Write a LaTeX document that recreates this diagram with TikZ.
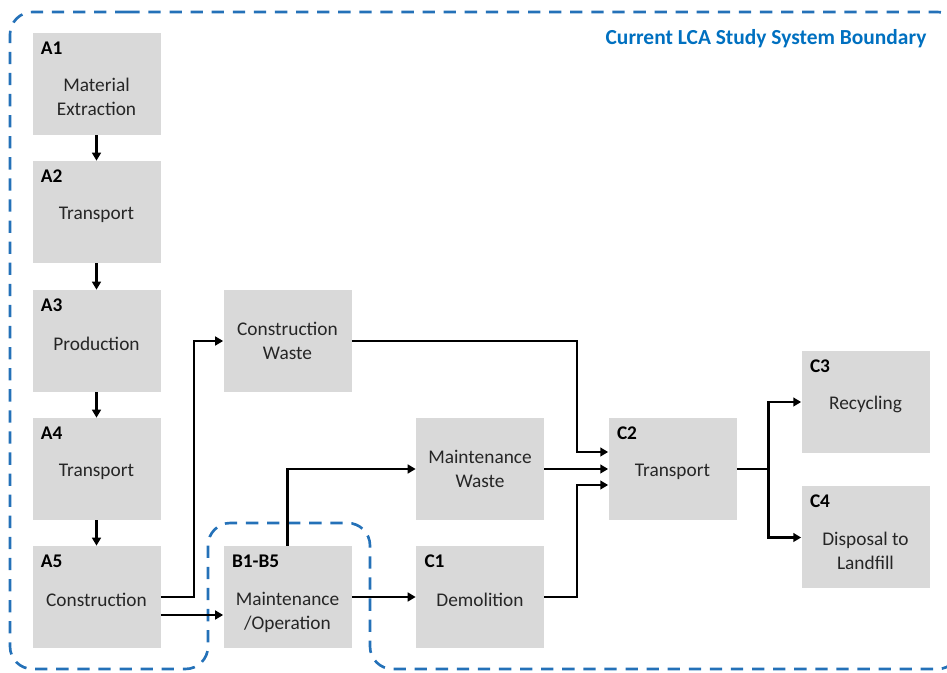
\documentclass[tikz,border=0pt]{standalone}
\usepackage{fontspec}
\setmainfont{Carlito}
\usetikzlibrary{arrows.meta}
\definecolor{boxgray}{RGB}{217,217,217}
\definecolor{linkblue}{RGB}{0,112,192}
\definecolor{edgeblue}{RGB}{36,113,184}

\begin{document}
\begin{tikzpicture}[
  box/.style={fill=boxgray, minimum width=2.56cm, minimum height=2.04cm, inner sep=0pt},
  txt/.style={align=center, inner sep=0pt, font=\fontsize{11pt}{13.7pt}\selectfont, text=black!85},
  one/.style={txt, yshift=-.05cm},
  tag/.style={anchor=north west, xshift=.17cm, yshift=-.17cm, inner sep=0pt, font=\bfseries\fontsize{11pt}{13.7pt}\selectfont},
  flow/.style={line width=1.3pt, -{Triangle[length=4.5pt,width=5pt]}},
  link/.style={line width=1.3pt},
  boundary/.style={edgeblue, line width=1.5pt, dash pattern=on 7pt off 5pt, rounded corners=.45cm},
  title/.style={text=linkblue, font=\bfseries\fontsize{12.2pt}{14pt}\selectfont}
]
\useasboundingbox (0, 0) rectangle (18.94, 13.46);
\clip (0, 0) rectangle (18.94, 13.46);

\draw [boundary] (3, 13.22) -- (.2, 13.22) -- (.2, .08) -- (4.16, .08) -- (4.16, 3) -- (7.4, 3) -- (7.4, .08) -- (19.2, .08) -- (19.2, 13.22) -- cycle;
\node [title] (ttl) at (15.32, 12.68) {Current LCA Study System Boundary};

\node [box] (a1) at (1.93, 11.78) {};
\node [box] (a2) at (1.93, 9.22) {};
\node [box] (a3) at (1.93, 6.64) {};
\node [box] (a4) at (1.93, 4.08) {};
\node [box] (a5) at (1.93, 1.52) {};
\node [box] (cw) at (5.75, 6.64) {};
\node [box] (b15) at (5.75, 1.52) {};
\node [box] (mw) at (9.6, 4.08) {};
\node [box] (c1) at (9.6, 1.52) {};
\node [box] (c2) at (13.45, 4.08) {};
\node [box] (c3) at (17.31, 5.42) {};
\node [box] (c4) at (17.31, 2.71) {};

\node [tag] (a1tag) at (a1.north west) {A1};
\node [tag] (a2tag) at (a2.north west) {A2};
\node [tag] (a3tag) at (a3.north west) {A3};
\node [tag] (a4tag) at (a4.north west) {A4};
\node [tag] (a5tag) at (a5.north west) {A5};
\node [tag] (b15tag) at (b15.north west) {B1-B5};
\node [tag] (c1tag) at (c1.north west) {C1};
\node [tag] (c2tag) at (c2.north west) {C2};
\node [tag] (c3tag) at (c3.north west) {C3};
\node [tag] (c4tag) at (c4.north west) {C4};

\node [txt] (a1txt) at ([yshift=-.26cm]a1.center) {Material\\Extraction};
\node [one] (a2txt) at (a2.center) {Transport};
\node [one] (a3txt) at (a3.center) {Production};
\node [one] (a4txt) at (a4.center) {Transport};
\node [one] (a5txt) at (a5.center) {Construction};
\node [txt] (cwtxt) at (cw.center) {Construction\\Waste};
\node [txt] (b15txt) at ([yshift=-.3cm]b15.center) {Maintenance\\/Operation};
\node [txt] (mwtxt) at (mw.center) {Maintenance\\Waste};
\node [one] (c1txt) at (c1.center) {Demolition};
\node [one] (c2txt) at (c2.center) {Transport};
\node [one] (c3txt) at (c3.center) {Recycling};
\node [txt] (c4txt) at ([yshift=-.27cm]c4.center) {Disposal to\\Landfill};

\draw [flow] (a1.south) -- (a2.north);
\draw [flow] (a2.south) -- (a3.north);
\draw [flow] (a3.south) -- (a4.north);
\draw [flow] (a4.south) -- (a5.north);

\draw [flow] (a5.east) -- ++(.66, 0) |- (cw.west);
\draw [flow] ([yshift=-.36cm]a5.east) -- ([yshift=-.36cm]b15.west);
\draw [flow] (b15.north) |- (mw.west);
\draw [flow] (b15.east) -- (c1.west);

\draw [flow] (cw.east) -| ([xshift=-.63cm, yshift=.34cm]c2.west) -- ([yshift=.34cm]c2.west);
\draw [flow] (mw.east) -- (c2.west);
\draw [flow] (c1.east) -| ([xshift=-.63cm, yshift=-.32cm]c2.west) -- ([yshift=-.32cm]c2.west);

\draw [link] (c2.east) -- ++(.63, 0) coordinate (split);
\draw [flow] (split) |- (c3.west);
\draw [flow] (split) |- (c4.west);
\end{tikzpicture}
\end{document}
